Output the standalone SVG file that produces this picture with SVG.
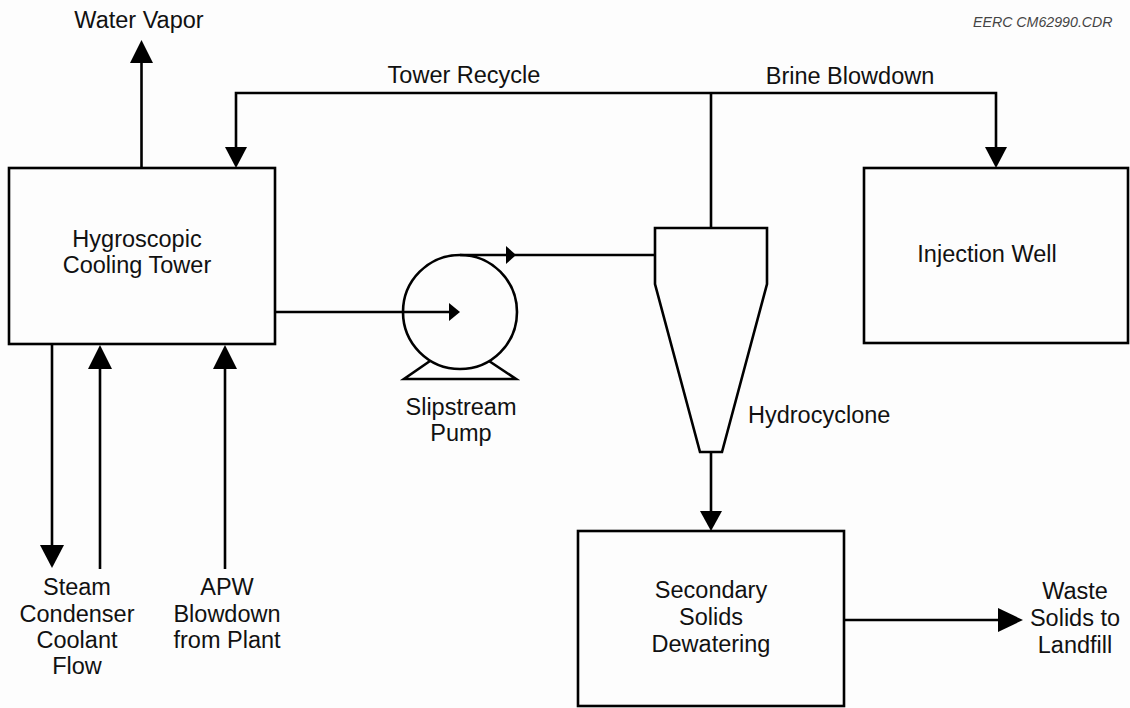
<svg xmlns="http://www.w3.org/2000/svg" width="1130" height="708" viewBox="0 0 1130 708">
<style>
.box{fill:none;stroke:#000;stroke-width:2.6}
.ln{fill:none;stroke:#000;stroke-width:2.6}
.ah{fill:#000;stroke:none}
text{font-family:"Liberation Sans",Arial,sans-serif;font-size:23.5px;fill:#111;text-anchor:middle}
.note{font-size:14.2px;font-style:italic;fill:#444;text-anchor:start}
.lt{text-anchor:start}
</style>
<rect x="0" y="0" width="1130" height="708" fill="#fdfdfd"/>
<text class="note" x="973" y="27">EERC CM62990.CDR</text>

<g id="tower">
<rect class="box" x="9" y="168" width="266" height="176"/>
<text x="137" y="247">Hygroscopic</text>
<text x="137" y="273">Cooling Tower</text>
</g>

<g id="injection">
<rect class="box" x="864" y="168" width="264" height="175"/>
<text x="987" y="262">Injection Well</text>
</g>

<g id="pump">
<circle class="ln" cx="460" cy="312" r="57"/>
<polyline class="ln" points="430,361 404,379 516,379 489,361"/>
<text x="461" y="415">Slipstream</text>
<text x="461" y="441">Pump</text>
</g>

<g id="hydrocyclone">
<polygon class="box" points="655,228 767,228 767,284 722,452 700,452 655,284"/>
<text class="lt" x="748" y="423">Hydrocyclone</text>
</g>

<g id="dewatering">
<rect class="box" x="578" y="531" width="266" height="175"/>
<text x="711" y="598">Secondary</text>
<text x="711" y="625">Solids</text>
<text x="711" y="652">Dewatering</text>
</g>

<g id="labels">
<text x="139" y="28">Water Vapor</text>
<text x="464" y="83">Tower Recycle</text>
<text x="850" y="84">Brine Blowdown</text>
<text x="77" y="595">Steam</text>
<text x="77" y="622">Condenser</text>
<text x="77" y="648">Coolant</text>
<text x="77" y="674">Flow</text>
<text x="227" y="595">APW</text>
<text x="227" y="622">Blowdown</text>
<text x="227" y="648">from Plant</text>
<text x="1075" y="599">Waste</text>
<text x="1075" y="626">Solids to</text>
<text x="1075" y="653">Landfill</text>
</g>

<g id="connectors">
<line class="ln" x1="141.5" y1="168" x2="141.5" y2="60"/>
<polygon class="ah" points="141.5,40 130,63 153,63"/>
<polyline class="ln" points="236,150 236,93 996,93 996,150"/>
<polygon class="ah" points="236,168 225,147 247,147"/>
<polygon class="ah" points="996,168 985,147 1007,147"/>
<line class="ln" x1="711" y1="93" x2="711" y2="228"/>
<line class="ln" x1="275" y1="312" x2="452" y2="312"/>
<polygon class="ah" points="460,312 449,303 449,321"/>
<line class="ln" x1="460" y1="255" x2="655" y2="255"/>
<polygon class="ah" points="516,255 506,246 506,264"/>
<line class="ln" x1="711" y1="452" x2="711" y2="514"/>
<polygon class="ah" points="711,531 700,511 722,511"/>
<line class="ln" x1="844" y1="620" x2="1000" y2="620"/>
<polygon class="ah" points="1023,620 998,608 998,632"/>
<line class="ln" x1="52" y1="344" x2="52" y2="550"/>
<polygon class="ah" points="52,568 40,545 64,545"/>
<line class="ln" x1="100" y1="569" x2="100" y2="365"/>
<polygon class="ah" points="100,345 88,369 112,369"/>
<line class="ln" x1="225" y1="569" x2="225" y2="365"/>
<polygon class="ah" points="225,345 213,369 237,369"/>
</g>
</svg>
